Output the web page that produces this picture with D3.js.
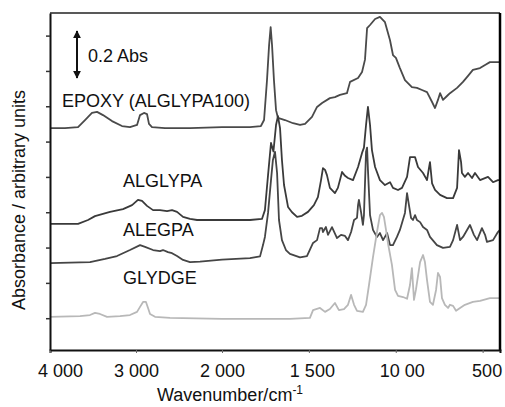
<!DOCTYPE html>
<html>
<head>
<meta charset="utf-8">
<script src="https://cdn.jsdelivr.net/npm/d3@7"></script>
<style>
    body { margin: 0; background: #fff; }
    text { font-family: "Liberation Sans", Arial, Helvetica, sans-serif; }
</style>
</head>
<body>
<div id="chart-container"></div>
<script>
// spectra: [wavenumber cm-1, absorbance (arbitrary, stacked)]
var epoxy = [[4000,6.38],[3826,6.38],[3674,6.41],[3593,6.61],[3512,6.81],[3453,6.84],[3384,6.75],[3279,6.58],
    [3163,6.44],[3070,6.41],[2988,6.47],[2953,6.75],[2907,6.81],[2872,6.78],[2849,6.50],[2814,6.41],[2663,6.38],
    [2372,6.38],[2000,6.41],[1839,6.41],[1776,6.44],[1758,6.61],[1741,7.74],[1729,8.73],[1720,9.24],[1712,8.73],
    [1701,7.74],[1689,6.89],[1678,6.67],[1638,6.61],[1591,6.52],[1551,6.47],[1522,6.50],[1482,6.70],[1453,6.98],
    [1424,7.09],[1379,7.23],[1350,7.26],[1321,7.32],[1281,7.37],[1263,7.69],[1217,7.80],[1194,7.97],[1177,8.32],
    [1165,9.21],[1148,9.30],[1119,9.47],[1091,9.53],[1062,9.38],[1033,8.87],[1016,8.45],[999,8.37],[976,8.08],
    [947,7.74],[907,7.54],[878,7.52],[849,7.46],[820,7.40],[791,7.12],[774,6.95],[757,7.18],[745,7.37],[728,7.18],
    [705,7.29],[688,7.37],[647,7.52],[613,7.69],[584,7.86],[556,8.03],[515,8.08],[486,8.17],[458,8.25],[429,8.25],[400,8.25]];

var alglypa = [[4000,3.67],[3674,3.67],[3558,3.78],[3477,3.89],[3302,4.01],[3151,4.09],[3046,4.20],[2977,4.35],
    [2930,4.32],[2872,4.18],[2802,4.06],[2721,4.06],[2639,4.03],[2581,4.06],[2523,4.01],[2453,3.87],[2372,3.81],
    [2290,3.78],[2000,3.78],[1839,3.78],[1770,3.81],[1753,4.06],[1735,5.05],[1718,5.96],[1704,5.72],[1689,6.47],
    [1678,6.72],[1666,6.38],[1655,5.48],[1643,4.77],[1620,4.15],[1597,4.00],[1568,3.87],[1540,3.90],[1505,4.01],
    [1471,4.20],[1448,4.43],[1430,4.91],[1419,5.25],[1407,5.20],[1396,5.05],[1379,4.69],[1350,4.54],[1333,4.69],
    [1309,5.14],[1292,5.03],[1275,4.97],[1246,4.91],[1217,5.28],[1194,5.68],[1183,5.83],[1171,6.47],[1160,6.98],
    [1148,6.47],[1137,5.76],[1119,5.28],[1091,4.91],[1062,4.77],[1033,4.85],[1016,4.69],[987,4.63],[964,4.69],
    [935,5.00],[918,5.56],[889,5.56],[872,5.28],[843,5.11],[820,4.91],[809,5.25],[803,5.42],[791,4.82],[774,4.63],
    [745,4.49],[705,4.40],[670,4.40],[647,4.69],[636,5.76],[624,5.42],[619,5.11],[602,5.00],[584,5.11],[561,4.97],
    [544,5.11],[515,4.91],[469,5.00],[440,4.85],[412,4.91],[400,4.91]];

var alegpa = [[4000,2.56],[3535,2.59],[3360,2.68],[3221,2.76],[3070,2.93],[2953,3.07],[2895,3.02],[2802,2.93],
    [2721,2.90],[2686,2.93],[2628,2.87],[2581,2.84],[2523,2.76],[2453,2.65],[2372,2.59],[2256,2.60],[2000,2.66],
    [1839,2.70],[1781,2.75],[1764,3.07],[1753,3.30],[1735,3.98],[1718,4.91],[1707,5.48],[1695,5.71],[1683,5.11],
    [1672,3.78],[1655,3.21],[1632,2.93],[1609,2.82],[1551,2.72],[1511,2.76],[1476,3.13],[1453,3.21],[1436,3.55],
    [1424,3.55],[1419,3.44],[1402,3.58],[1390,3.36],[1367,3.58],[1338,3.27],[1315,3.36],[1292,3.33],[1275,3.21],
    [1257,3.44],[1240,3.78],[1223,3.84],[1217,4.20],[1212,4.35],[1200,4.01],[1189,3.64],[1183,3.92],[1171,5.71],
    [1165,5.83],[1160,5.20],[1148,3.92],[1131,3.50],[1108,3.30],[1091,3.41],[1073,3.21],[1050,3.41],[1033,3.07],
    [1016,3.07],[993,3.30],[976,3.50],[947,3.98],[935,4.54],[924,4.20],[912,3.84],[901,3.78],[889,3.92],[878,3.78],
    [860,3.72],[843,3.58],[820,3.50],[803,3.30],[763,3.07],[728,2.99],[688,3.02],[670,3.21],[647,3.64],[630,3.21],
    [613,3.30],[573,3.64],[550,3.36],[532,3.21],[504,3.55],[486,3.36],[475,3.16],[440,3.21],[412,3.44],[400,3.50]];

var glydge = [[4000,1.04],[3651,1.06],[3535,1.09],[3477,1.15],[3419,1.12],[3337,1.04],[3186,1.06],[3070,1.09],
    [2988,1.18],[2953,1.32],[2918,1.46],[2884,1.46],[2860,1.29],[2837,1.12],[2779,1.04],[2604,1.01],[2000,0.98],
    [1609,0.98],[1494,1.01],[1476,1.23],[1436,1.29],[1407,1.18],[1379,1.26],[1350,1.43],[1327,1.23],[1298,1.26],
    [1275,1.38],[1257,1.66],[1240,1.38],[1223,1.21],[1189,1.18],[1171,1.38],[1154,1.94],[1131,2.73],[1108,3.44],
    [1091,3.92],[1079,3.98],[1068,3.87],[1056,3.50],[1045,3.13],[1022,2.51],[1004,1.80],[987,1.63],[958,1.60],
    [935,1.55],[918,1.94],[907,2.42],[895,1.52],[884,1.80],[860,2.59],[843,2.79],[832,2.59],[820,2.08],[803,1.46],
    [786,1.38],[768,1.80],[757,2.28],[745,2.17],[734,1.57],[717,1.38],[699,1.29],[688,1.38],[670,1.35],[653,1.21],
    [630,1.29],[602,1.38],[556,1.46],[515,1.49],[458,1.57],[400,1.57]];

var seriesNames = ["EPOXY (ALGLYPA100)", "ALGLYPA", "ALEGPA", "GLYDGE"];
var xTickValues = [4000, 3000, 2000, 1500, 1000, 500];
var xTickLabels = ["4 000", "3 000", "2 000", "1 500", "10 00", "500"];
var yTickValues = [1, 2, 3, 4, 5, 6, 7, 8, 9];
// 0.2 Abs scale bar (wavenumber, bottom, top)
var scaleBar = [3686, 7.80, 9.13];

var width = 505, height = 407;

var svg = d3.select("#chart-container")
    .append("svg")
    .attr("width", width)
    .attr("height", height);

// broken wavenumber axis: 2000 cm-1 and below is stretched x2
var x = d3.scaleLinear()
    .domain([4000, 2000, 400])
    .range([50, 222, 500]);

var y = d3.scaleLinear()
    .domain([0.1, 9.64])
    .range([350, 13]);

var line = d3.line()
    .x(function(d) { return x(d[0]); })
    .y(function(d) { return y(d[1]); });

var styles = [
    {data: epoxy, stroke: "#4a4a4a"},
    {data: alglypa, stroke: "#3a3a3a"},
    {data: alegpa, stroke: "#454545"},
    {data: glydge, stroke: "#b8b8b8"}
];

styles.forEach(function(s) {
    svg.append("path")
        .datum(s.data)
        .attr("fill", "none")
        .attr("stroke", s.stroke)
        .attr("stroke-width", 1.8)
        .attr("stroke-linejoin", "round")
        .attr("d", line);
});

// frame
svg.append("line").attr("x1", 50).attr("x2", 500).attr("y1", 13).attr("y2", 13)
    .attr("stroke", "#222").attr("stroke-width", 1.5);
svg.append("line").attr("x1", 500).attr("x2", 500).attr("y1", 13).attr("y2", 351)
    .attr("stroke", "#000").attr("stroke-width", 2.5);

var xAxis = d3.axisBottom(x)
    .tickValues(xTickValues)
    .tickSize(3)
    .tickFormat(function(d, i) { return xTickLabels[i]; });

var gx = svg.append("g")
    .attr("class", "x-axis")
    .attr("transform", "translate(0,350)")
    .call(xAxis);
gx.select(".domain").attr("stroke", "#111").attr("stroke-width", 2);
gx.selectAll(".tick line").attr("stroke", "#666");
var labelShift = {4000: 10, 1000: 6, 1500: 3, 500: 4};
gx.selectAll(".tick text")
    .attr("y", 27)
    .attr("dy", null)
    .attr("dx", function(d) { return labelShift[d] || 0; })
    .style("font-size", "18px")
    .attr("fill", "#111");

var yAxis = d3.axisLeft(y)
    .tickValues(yTickValues)
    .tickSize(4)
    .tickSizeOuter(0)
    .tickFormat("");

var gy = svg.append("g")
    .attr("class", "y-axis")
    .attr("transform", "translate(50,0)")
    .call(yAxis);
gy.select(".domain").attr("stroke", "#111").attr("stroke-width", 2);
gy.selectAll(".tick line").attr("stroke", "#333").attr("stroke-width", 1.5);

// series labels
var labelPos = [[62, 107], [123, 187], [123, 236], [123, 284]];
svg.selectAll("text.series")
    .data(seriesNames)
    .enter()
    .append("text")
    .attr("class", "series")
    .attr("x", function(d, i) { return labelPos[i][0]; })
    .attr("y", function(d, i) { return labelPos[i][1]; })
    .style("font-size", "18px")
    .attr("fill", "#111")
    .text(function(d) { return d; });

// scale bar arrow
var defs = svg.append("defs");
defs.append("marker")
    .attr("id", "arrow")
    .attr("viewBox", "0 0 10 10")
    .attr("refX", 9).attr("refY", 5)
    .attr("markerWidth", 4).attr("markerHeight", 5)
    .attr("orient", "auto-start-reverse")
    .append("path")
    .attr("d", "M0,0L10,5L0,10z")
    .attr("fill", "#111");

svg.append("line")
    .attr("x1", x(scaleBar[0])).attr("x2", x(scaleBar[0]))
    .attr("y1", y(scaleBar[1])).attr("y2", y(scaleBar[2]))
    .attr("stroke", "#111")
    .attr("stroke-width", 2)
    .attr("marker-start", "url(#arrow)")
    .attr("marker-end", "url(#arrow)");

svg.append("text")
    .attr("x", 88)
    .attr("y", 62)
    .style("font-size", "18px")
    .attr("fill", "#111")
    .text("0.2 Abs");

// axis titles
var xt = svg.append("text")
    .attr("x", 157)
    .attr("y", 401)
    .style("font-size", "18px")
    .attr("fill", "#111")
    .text("Wavenumber/cm");
xt.append("tspan")
    .attr("dy", -7)
    .style("font-size", "12px")
    .text("-1");

svg.append("text")
    .attr("transform", "translate(25,200) rotate(-90)")
    .attr("text-anchor", "middle")
    .style("font-size", "18px")
    .attr("fill", "#111")
    .text("Absorbance / arbitrary units");
</script>
</body>
</html>
